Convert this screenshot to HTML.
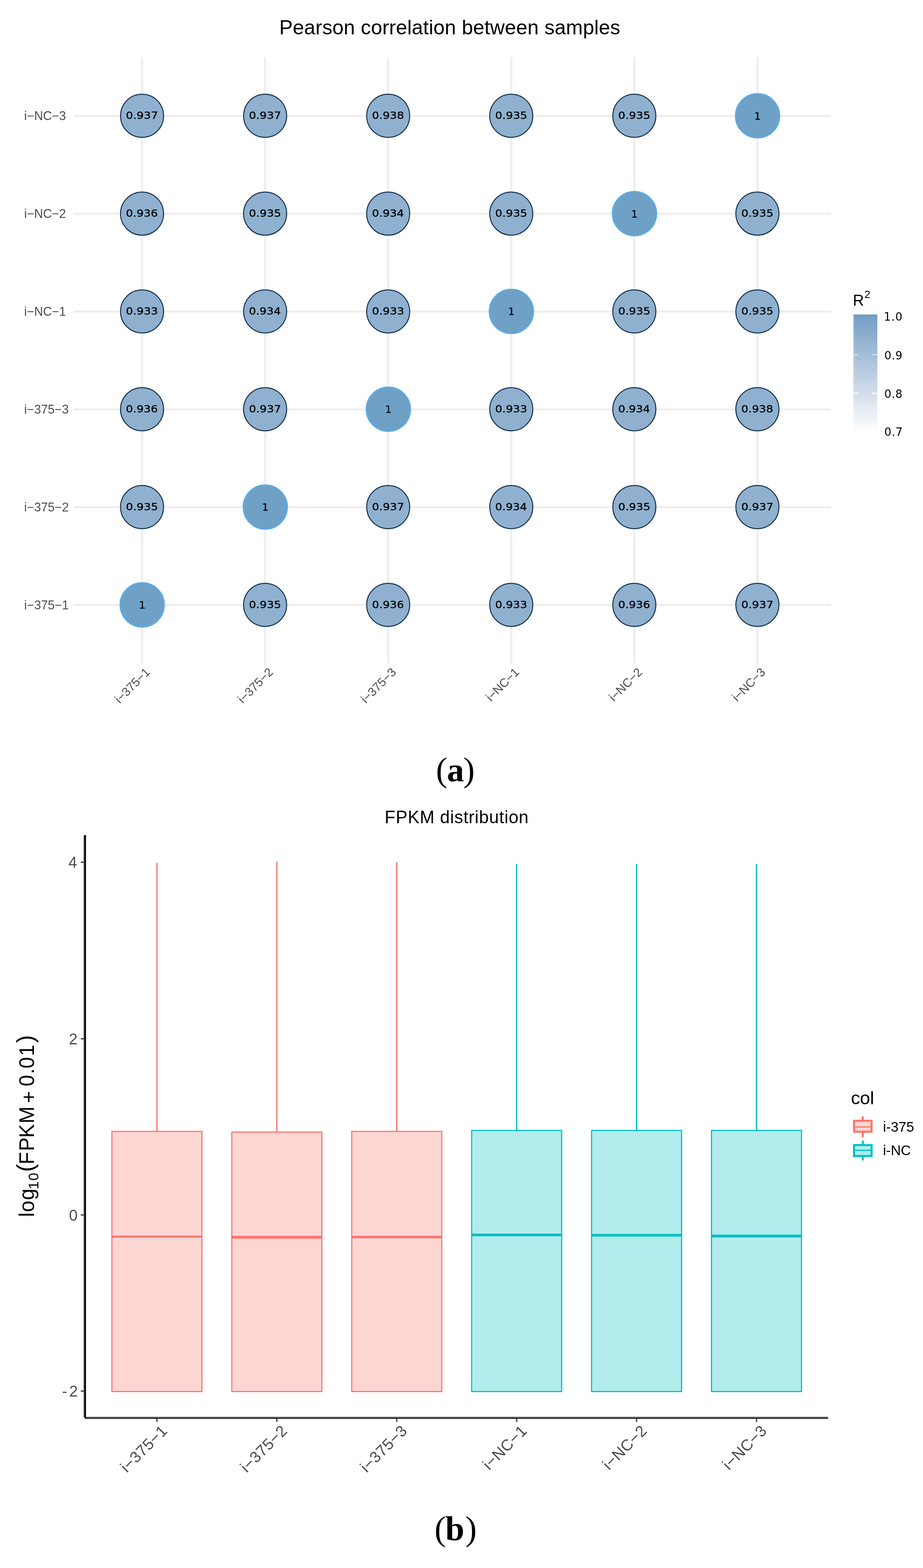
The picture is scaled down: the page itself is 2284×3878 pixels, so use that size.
<!DOCTYPE html>
<html><head><meta charset="utf-8"><title>Pearson correlation between samples / FPKM distribution</title>
<style>html,body{margin:0;padding:0;background:#fff;overflow:hidden;}svg{display:block;}</style></head>
<body><svg width="2284" height="3878" viewBox="0 0 2284 3878" font-family="'Liberation Sans', Arial, Helvetica, sans-serif">
<rect width="2284" height="3878" fill="#fff"/>
<text x="690.90" y="84.70" font-size="50" textLength="843.91" lengthAdjust="spacing" fill="#000">Pearson correlation between samples</text>
<line x1="351.50" y1="141" x2="351.50" y2="1641.5" stroke="#EEEEEE" stroke-width="5.2"/>
<line x1="656.04" y1="141" x2="656.04" y2="1641.5" stroke="#EEEEEE" stroke-width="5.2"/>
<line x1="960.58" y1="141" x2="960.58" y2="1641.5" stroke="#EEEEEE" stroke-width="5.2"/>
<line x1="1265.12" y1="141" x2="1265.12" y2="1641.5" stroke="#EEEEEE" stroke-width="5.2"/>
<line x1="1569.66" y1="141" x2="1569.66" y2="1641.5" stroke="#EEEEEE" stroke-width="5.2"/>
<line x1="1874.20" y1="141" x2="1874.20" y2="1641.5" stroke="#EEEEEE" stroke-width="5.2"/>
<line x1="182.3" y1="286.80" x2="2056.7" y2="286.80" stroke="#EEEEEE" stroke-width="5.2"/>
<line x1="182.3" y1="528.72" x2="2056.7" y2="528.72" stroke="#EEEEEE" stroke-width="5.2"/>
<line x1="182.3" y1="770.64" x2="2056.7" y2="770.64" stroke="#EEEEEE" stroke-width="5.2"/>
<line x1="182.3" y1="1012.56" x2="2056.7" y2="1012.56" stroke="#EEEEEE" stroke-width="5.2"/>
<line x1="182.3" y1="1254.48" x2="2056.7" y2="1254.48" stroke="#EEEEEE" stroke-width="5.2"/>
<line x1="182.3" y1="1496.40" x2="2056.7" y2="1496.40" stroke="#EEEEEE" stroke-width="5.2"/>
<circle cx="351.50" cy="286.40" r="53.3" fill="#8FB1CF" stroke="#16324F" stroke-width="2.5"/>
<circle cx="656.04" cy="286.40" r="53.3" fill="#8FB1CF" stroke="#16324F" stroke-width="2.5"/>
<circle cx="960.58" cy="286.40" r="53.3" fill="#8FB1CF" stroke="#16324F" stroke-width="2.5"/>
<circle cx="1265.12" cy="286.40" r="53.3" fill="#8FB1CF" stroke="#16324F" stroke-width="2.5"/>
<circle cx="1569.66" cy="286.40" r="53.3" fill="#8FB1CF" stroke="#16324F" stroke-width="2.5"/>
<circle cx="1874.60" cy="286.40" r="55" fill="#6FA1C6" stroke="#56B1F7" stroke-width="2.3"/>
<circle cx="351.50" cy="528.32" r="53.3" fill="#8FB1CF" stroke="#16324F" stroke-width="2.5"/>
<circle cx="656.04" cy="528.32" r="53.3" fill="#8FB1CF" stroke="#16324F" stroke-width="2.5"/>
<circle cx="960.58" cy="528.32" r="53.3" fill="#8FB1CF" stroke="#16324F" stroke-width="2.5"/>
<circle cx="1265.12" cy="528.32" r="53.3" fill="#8FB1CF" stroke="#16324F" stroke-width="2.5"/>
<circle cx="1570.06" cy="528.32" r="55" fill="#6FA1C6" stroke="#56B1F7" stroke-width="2.3"/>
<circle cx="1874.20" cy="528.32" r="53.3" fill="#8FB1CF" stroke="#16324F" stroke-width="2.5"/>
<circle cx="351.50" cy="770.24" r="53.3" fill="#8FB1CF" stroke="#16324F" stroke-width="2.5"/>
<circle cx="656.04" cy="770.24" r="53.3" fill="#8FB1CF" stroke="#16324F" stroke-width="2.5"/>
<circle cx="960.58" cy="770.24" r="53.3" fill="#8FB1CF" stroke="#16324F" stroke-width="2.5"/>
<circle cx="1265.52" cy="770.24" r="55" fill="#6FA1C6" stroke="#56B1F7" stroke-width="2.3"/>
<circle cx="1569.66" cy="770.24" r="53.3" fill="#8FB1CF" stroke="#16324F" stroke-width="2.5"/>
<circle cx="1874.20" cy="770.24" r="53.3" fill="#8FB1CF" stroke="#16324F" stroke-width="2.5"/>
<circle cx="351.50" cy="1012.16" r="53.3" fill="#8FB1CF" stroke="#16324F" stroke-width="2.5"/>
<circle cx="656.04" cy="1012.16" r="53.3" fill="#8FB1CF" stroke="#16324F" stroke-width="2.5"/>
<circle cx="960.98" cy="1012.16" r="55" fill="#6FA1C6" stroke="#56B1F7" stroke-width="2.3"/>
<circle cx="1265.12" cy="1012.16" r="53.3" fill="#8FB1CF" stroke="#16324F" stroke-width="2.5"/>
<circle cx="1569.66" cy="1012.16" r="53.3" fill="#8FB1CF" stroke="#16324F" stroke-width="2.5"/>
<circle cx="1874.20" cy="1012.16" r="53.3" fill="#8FB1CF" stroke="#16324F" stroke-width="2.5"/>
<circle cx="351.50" cy="1254.08" r="53.3" fill="#8FB1CF" stroke="#16324F" stroke-width="2.5"/>
<circle cx="656.44" cy="1254.08" r="55" fill="#6FA1C6" stroke="#56B1F7" stroke-width="2.3"/>
<circle cx="960.58" cy="1254.08" r="53.3" fill="#8FB1CF" stroke="#16324F" stroke-width="2.5"/>
<circle cx="1265.12" cy="1254.08" r="53.3" fill="#8FB1CF" stroke="#16324F" stroke-width="2.5"/>
<circle cx="1569.66" cy="1254.08" r="53.3" fill="#8FB1CF" stroke="#16324F" stroke-width="2.5"/>
<circle cx="1874.20" cy="1254.08" r="53.3" fill="#8FB1CF" stroke="#16324F" stroke-width="2.5"/>
<circle cx="351.90" cy="1496.00" r="55" fill="#6FA1C6" stroke="#56B1F7" stroke-width="2.3"/>
<circle cx="656.04" cy="1496.00" r="53.3" fill="#8FB1CF" stroke="#16324F" stroke-width="2.5"/>
<circle cx="960.58" cy="1496.00" r="53.3" fill="#8FB1CF" stroke="#16324F" stroke-width="2.5"/>
<circle cx="1265.12" cy="1496.00" r="53.3" fill="#8FB1CF" stroke="#16324F" stroke-width="2.5"/>
<circle cx="1569.66" cy="1496.00" r="53.3" fill="#8FB1CF" stroke="#16324F" stroke-width="2.5"/>
<circle cx="1874.20" cy="1496.00" r="53.3" fill="#8FB1CF" stroke="#16324F" stroke-width="2.5"/>
<g font-family="'DejaVu Sans', 'Liberation Sans', sans-serif" stroke="#000" stroke-width="0.45">
<text x="311.55" y="294.40" font-size="25" textLength="79.58" lengthAdjust="spacingAndGlyphs" fill="#000">0.937</text>
<text x="616.09" y="294.40" font-size="25" textLength="79.58" lengthAdjust="spacingAndGlyphs" fill="#000">0.937</text>
<text x="920.63" y="294.40" font-size="25" textLength="79.16" lengthAdjust="spacingAndGlyphs" fill="#000">0.938</text>
<text x="1225.17" y="294.40" font-size="25" textLength="79.63" lengthAdjust="spacingAndGlyphs" fill="#000">0.935</text>
<text x="1529.71" y="294.40" font-size="25" textLength="79.63" lengthAdjust="spacingAndGlyphs" fill="#000">0.935</text>
<text x="1866.58" y="295.60" font-size="25" fill="#000">1</text>
<text x="311.55" y="536.32" font-size="25" textLength="79.02" lengthAdjust="spacingAndGlyphs" fill="#000">0.936</text>
<text x="616.09" y="536.32" font-size="25" textLength="79.63" lengthAdjust="spacingAndGlyphs" fill="#000">0.935</text>
<text x="920.63" y="536.32" font-size="25" textLength="78.85" lengthAdjust="spacingAndGlyphs" fill="#000">0.934</text>
<text x="1225.17" y="536.32" font-size="25" textLength="79.63" lengthAdjust="spacingAndGlyphs" fill="#000">0.935</text>
<text x="1562.04" y="537.52" font-size="25" fill="#000">1</text>
<text x="1834.25" y="536.32" font-size="25" textLength="79.63" lengthAdjust="spacingAndGlyphs" fill="#000">0.935</text>
<text x="311.55" y="778.24" font-size="25" textLength="79.45" lengthAdjust="spacingAndGlyphs" fill="#000">0.933</text>
<text x="616.09" y="778.24" font-size="25" textLength="78.85" lengthAdjust="spacingAndGlyphs" fill="#000">0.934</text>
<text x="920.63" y="778.24" font-size="25" textLength="79.45" lengthAdjust="spacingAndGlyphs" fill="#000">0.933</text>
<text x="1257.50" y="779.44" font-size="25" fill="#000">1</text>
<text x="1529.71" y="778.24" font-size="25" textLength="79.63" lengthAdjust="spacingAndGlyphs" fill="#000">0.935</text>
<text x="1834.25" y="778.24" font-size="25" textLength="79.63" lengthAdjust="spacingAndGlyphs" fill="#000">0.935</text>
<text x="311.55" y="1020.16" font-size="25" textLength="79.02" lengthAdjust="spacingAndGlyphs" fill="#000">0.936</text>
<text x="616.09" y="1020.16" font-size="25" textLength="79.58" lengthAdjust="spacingAndGlyphs" fill="#000">0.937</text>
<text x="952.96" y="1021.36" font-size="25" fill="#000">1</text>
<text x="1225.17" y="1020.16" font-size="25" textLength="79.45" lengthAdjust="spacingAndGlyphs" fill="#000">0.933</text>
<text x="1529.71" y="1020.16" font-size="25" textLength="78.85" lengthAdjust="spacingAndGlyphs" fill="#000">0.934</text>
<text x="1834.25" y="1020.16" font-size="25" textLength="79.16" lengthAdjust="spacingAndGlyphs" fill="#000">0.938</text>
<text x="311.55" y="1262.08" font-size="25" textLength="79.63" lengthAdjust="spacingAndGlyphs" fill="#000">0.935</text>
<text x="648.42" y="1263.28" font-size="25" fill="#000">1</text>
<text x="920.63" y="1262.08" font-size="25" textLength="79.58" lengthAdjust="spacingAndGlyphs" fill="#000">0.937</text>
<text x="1225.17" y="1262.08" font-size="25" textLength="78.85" lengthAdjust="spacingAndGlyphs" fill="#000">0.934</text>
<text x="1529.71" y="1262.08" font-size="25" textLength="79.63" lengthAdjust="spacingAndGlyphs" fill="#000">0.935</text>
<text x="1834.25" y="1262.08" font-size="25" textLength="79.58" lengthAdjust="spacingAndGlyphs" fill="#000">0.937</text>
<text x="343.88" y="1505.20" font-size="25" fill="#000">1</text>
<text x="616.09" y="1504.00" font-size="25" textLength="79.63" lengthAdjust="spacingAndGlyphs" fill="#000">0.935</text>
<text x="920.63" y="1504.00" font-size="25" textLength="79.02" lengthAdjust="spacingAndGlyphs" fill="#000">0.936</text>
<text x="1225.17" y="1504.00" font-size="25" textLength="79.45" lengthAdjust="spacingAndGlyphs" fill="#000">0.933</text>
<text x="1529.71" y="1504.00" font-size="25" textLength="79.02" lengthAdjust="spacingAndGlyphs" fill="#000">0.936</text>
<text x="1834.25" y="1504.00" font-size="25" textLength="79.58" lengthAdjust="spacingAndGlyphs" fill="#000">0.937</text>
</g>
<text x="59.86" y="297.40" font-size="30.5" fill="#4D4D4D">i−NC−3</text>
<text x="59.86" y="539.32" font-size="30.5" fill="#4D4D4D">i−NC−2</text>
<text x="59.86" y="781.24" font-size="30.5" fill="#4D4D4D">i−NC−1</text>
<text x="59.86" y="1023.16" font-size="30.5" fill="#4D4D4D">i−375−3</text>
<text x="59.86" y="1265.08" font-size="30.5" fill="#4D4D4D">i−375−2</text>
<text x="59.86" y="1507.00" font-size="30.5" fill="#4D4D4D">i−375−1</text>
<text transform="translate(373.00,1664.3) rotate(-45)" font-size="30" text-anchor="end" fill="#4D4D4D">i−375−1</text>
<text transform="translate(677.54,1664.3) rotate(-45)" font-size="30" text-anchor="end" fill="#4D4D4D">i−375−2</text>
<text transform="translate(982.08,1664.3) rotate(-45)" font-size="30" text-anchor="end" fill="#4D4D4D">i−375−3</text>
<text transform="translate(1286.62,1664.3) rotate(-45)" font-size="30" text-anchor="end" fill="#4D4D4D">i−NC−1</text>
<text transform="translate(1591.16,1664.3) rotate(-45)" font-size="30" text-anchor="end" fill="#4D4D4D">i−NC−2</text>
<text transform="translate(1895.70,1664.3) rotate(-45)" font-size="30" text-anchor="end" fill="#4D4D4D">i−NC−3</text>
<defs><linearGradient id="cb" x1="0" y1="0" x2="0" y2="1"><stop offset="0.00" stop-color="#719FC5"/><stop offset="0.10" stop-color="#80A7CA"/><stop offset="0.20" stop-color="#90B0D0"/><stop offset="0.30" stop-color="#9FBAD6"/><stop offset="0.40" stop-color="#ADC3DC"/><stop offset="0.50" stop-color="#BBCDE2"/><stop offset="0.60" stop-color="#C9D7E8"/><stop offset="0.70" stop-color="#D7E1EE"/><stop offset="0.80" stop-color="#E5ECF4"/><stop offset="0.90" stop-color="#F3F6FA"/><stop offset="1.00" stop-color="#FFFFFF"/></linearGradient></defs>
<rect x="2111.2" y="777.7" width="59.8" height="294.6" fill="url(#cb)"/>
<rect x="2111.2" y="777.7" width="2.6" height="294.6" fill="#fff" fill-opacity="0.3"/>
<line x1="2111.2" y1="877.3" x2="2125" y2="877.3" stroke="#fff" stroke-opacity="0.55" stroke-width="2.8"/>
<line x1="2157" y1="877.3" x2="2171" y2="877.3" stroke="#fff" stroke-opacity="0.55" stroke-width="2.8"/>
<line x1="2111.2" y1="972.6" x2="2125" y2="972.6" stroke="#fff" stroke-opacity="0.9" stroke-width="2.8"/>
<line x1="2157" y1="972.6" x2="2171" y2="972.6" stroke="#fff" stroke-opacity="0.9" stroke-width="2.8"/>
<g font-family="'DejaVu Sans', 'Liberation Sans', sans-serif">
<text x="2186.98" y="793.20" font-size="27.5" textLength="45.95" lengthAdjust="spacing" fill="#000">1.0</text>
<text x="2188.19" y="888.90" font-size="27.5" textLength="44.85" lengthAdjust="spacing" fill="#000">0.9</text>
<text x="2188.19" y="984.20" font-size="27.5" textLength="44.79" lengthAdjust="spacing" fill="#000">0.8</text>
<text x="2188.19" y="1077.70" font-size="27.5" textLength="45.26" lengthAdjust="spacing" fill="#000">0.7</text>
</g>
<text x="2110.50" y="755.90" font-size="38" fill="#000">R</text>
<text x="2139.08" y="736.90" font-size="26.5" fill="#000">2</text>
<text y="1931.7" font-size="84.6" font-family="'Liberation Serif', 'Times New Roman', serif" fill="#000"><tspan x="1078.8">(</tspan><tspan x="1106" font-weight="bold">a</tspan><tspan x="1146.5">)</tspan></text>
<text x="951.83" y="2035.50" font-size="43.5" textLength="355.99" lengthAdjust="spacing" fill="#000">FPKM distribution</text>
<line x1="388.30" y1="2133.9" x2="388.30" y2="2798.2" stroke="#F8766D" stroke-width="3.2"/>
<rect x="276.90" y="2798.2" width="222.8" height="643.40" fill="#FDD6D3" stroke="#F8766D" stroke-width="2.8"/>
<line x1="276.90" y1="3058.3" x2="499.70" y2="3058.3" stroke="#F8766D" stroke-width="4.8"/>
<line x1="685.04" y1="2131.2" x2="685.04" y2="2799.8" stroke="#F8766D" stroke-width="3.2"/>
<rect x="573.64" y="2799.8" width="222.8" height="641.80" fill="#FDD6D3" stroke="#F8766D" stroke-width="2.8"/>
<line x1="573.64" y1="3060" x2="796.44" y2="3060" stroke="#F8766D" stroke-width="7"/>
<line x1="981.78" y1="2132.7" x2="981.78" y2="2798.2" stroke="#F8766D" stroke-width="3.2"/>
<rect x="870.38" y="2798.2" width="222.8" height="643.40" fill="#FDD6D3" stroke="#F8766D" stroke-width="2.8"/>
<line x1="870.38" y1="3059.5" x2="1093.18" y2="3059.5" stroke="#F8766D" stroke-width="6"/>
<line x1="1278.52" y1="2136.4" x2="1278.52" y2="2795.8" stroke="#00BFC4" stroke-width="3.2"/>
<rect x="1167.12" y="2795.8" width="222.8" height="645.80" fill="#B2ECED" stroke="#00BFC4" stroke-width="2.8"/>
<line x1="1167.12" y1="3054.2" x2="1389.92" y2="3054.2" stroke="#00BFC4" stroke-width="6.5"/>
<line x1="1575.26" y1="2136.4" x2="1575.26" y2="2795.8" stroke="#00BFC4" stroke-width="3.2"/>
<rect x="1463.86" y="2795.8" width="222.8" height="645.80" fill="#B2ECED" stroke="#00BFC4" stroke-width="2.8"/>
<line x1="1463.86" y1="3055" x2="1686.66" y2="3055" stroke="#00BFC4" stroke-width="6.5"/>
<line x1="1872.00" y1="2136.4" x2="1872.00" y2="2795.8" stroke="#00BFC4" stroke-width="3.2"/>
<rect x="1760.60" y="2795.8" width="222.8" height="645.80" fill="#B2ECED" stroke="#00BFC4" stroke-width="2.8"/>
<line x1="1760.60" y1="3057" x2="1983.40" y2="3057" stroke="#00BFC4" stroke-width="7"/>
<rect x="207.1" y="2065.3" width="2.9" height="1440.6" fill="#333"/>
<rect x="210" y="2065.3" width="2.8" height="1443.4" fill="#000"/>
<rect x="212.8" y="3503.2" width="1836.5" height="2.7" fill="#A8A8A8"/>
<rect x="210" y="3505.9" width="1839.3" height="2.8" fill="#000"/>
<line x1="200" y1="2132.5" x2="207.1" y2="2132.5" stroke="#333" stroke-width="3"/>
<text x="169.27" y="2146.10" font-size="38.5" fill="#4D4D4D">4</text>
<line x1="200" y1="2569.1" x2="207.1" y2="2569.1" stroke="#333" stroke-width="3"/>
<text x="170.59" y="2582.70" font-size="38.5" fill="#4D4D4D">2</text>
<line x1="200" y1="3005" x2="207.1" y2="3005" stroke="#333" stroke-width="3"/>
<text x="170.69" y="3018.60" font-size="38.5" fill="#4D4D4D">0</text>
<line x1="200" y1="3440.4" x2="207.1" y2="3440.4" stroke="#333" stroke-width="3"/>
<text x="153.49" y="3454.00" font-size="38.5" textLength="39.25" lengthAdjust="spacing" fill="#4D4D4D">-2</text>
<line x1="388.30" y1="3508.7" x2="388.30" y2="3516.7" stroke="#333" stroke-width="3"/>
<text transform="translate(416.00,3541.5) rotate(-45)" font-size="39" text-anchor="end" textLength="144.48" lengthAdjust="spacing" fill="#4D4D4D">i−375−1</text>
<line x1="685.04" y1="3508.7" x2="685.04" y2="3516.7" stroke="#333" stroke-width="3"/>
<text transform="translate(712.74,3541.5) rotate(-45)" font-size="39" text-anchor="end" textLength="144.48" lengthAdjust="spacing" fill="#4D4D4D">i−375−2</text>
<line x1="981.78" y1="3508.7" x2="981.78" y2="3516.7" stroke="#333" stroke-width="3"/>
<text transform="translate(1009.48,3541.5) rotate(-45)" font-size="39" text-anchor="end" textLength="144.48" lengthAdjust="spacing" fill="#4D4D4D">i−375−3</text>
<line x1="1278.52" y1="3508.7" x2="1278.52" y2="3516.7" stroke="#333" stroke-width="3"/>
<text transform="translate(1306.22,3541.5) rotate(-45)" font-size="39" text-anchor="end" textLength="135.73" lengthAdjust="spacing" fill="#4D4D4D">i−NC−1</text>
<line x1="1575.26" y1="3508.7" x2="1575.26" y2="3516.7" stroke="#333" stroke-width="3"/>
<text transform="translate(1602.96,3541.5) rotate(-45)" font-size="39" text-anchor="end" textLength="135.73" lengthAdjust="spacing" fill="#4D4D4D">i−NC−2</text>
<line x1="1872.00" y1="3508.7" x2="1872.00" y2="3516.7" stroke="#333" stroke-width="3"/>
<text transform="translate(1899.70,3541.5) rotate(-45)" font-size="39" text-anchor="end" textLength="135.73" lengthAdjust="spacing" fill="#4D4D4D">i−NC−3</text>
<text transform="translate(84.3,3010.0) rotate(-90)" fill="#000"><tspan font-size="51" x="0.06 12.16 42.06" y="0.00 0.00 0.00">log</tspan><tspan font-size="35" x="68.73 90.03" y="10.80 10.80">10</tspan><tspan font-size="58.5" x="111.57" y="-1.00">(</tspan><tspan font-size="51" x="130.12 163.12 195.82 231.22" y="0.00 0.00 0.00 0.00">FPKM</tspan><tspan font-size="51" x="281.81" y="4.20">+</tspan><tspan font-size="51" x="323.21 353.64 367.41 397.92" y="0.00 0.00 0.00 0.00">0.01</tspan><tspan font-size="58.5" x="430.86" y="-1.00">)</tspan></text>
<text x="2105.79" y="2731.20" font-size="45" textLength="57.12" lengthAdjust="spacing" fill="#000">col</text>
<line x1="2135" y1="2761" x2="2135" y2="2812.5" stroke="#F8766D" stroke-width="5"/>
<rect x="2113.3" y="2772.0" width="43.5" height="27.09999999999991" fill="#FDD6D3" stroke="#F8766D" stroke-width="5"/>
<line x1="2115.8" y1="2787.3" x2="2154.3" y2="2787.3" stroke="#F8766D" stroke-width="3"/>
<text x="2184.89" y="2799.20" font-size="34.5" textLength="77.16" lengthAdjust="spacing" fill="#000">i-375</text>
<line x1="2135" y1="2821" x2="2135" y2="2870.1" stroke="#00BFC4" stroke-width="5"/>
<rect x="2113.3" y="2832.0" width="43.5" height="27.09999999999991" fill="#B2ECED" stroke="#00BFC4" stroke-width="5"/>
<line x1="2115.8" y1="2845" x2="2154.3" y2="2845" stroke="#00BFC4" stroke-width="3"/>
<text x="2184.89" y="2856.80" font-size="34.5" textLength="69.12" lengthAdjust="spacing" fill="#000">i-NC</text>
<text y="3808.6" font-size="84.5" font-family="'Liberation Serif', 'Times New Roman', serif" fill="#000"><tspan x="1075.3">(</tspan><tspan x="1102" font-weight="bold">b</tspan><tspan x="1151.6">)</tspan></text>
</svg></body></html>
